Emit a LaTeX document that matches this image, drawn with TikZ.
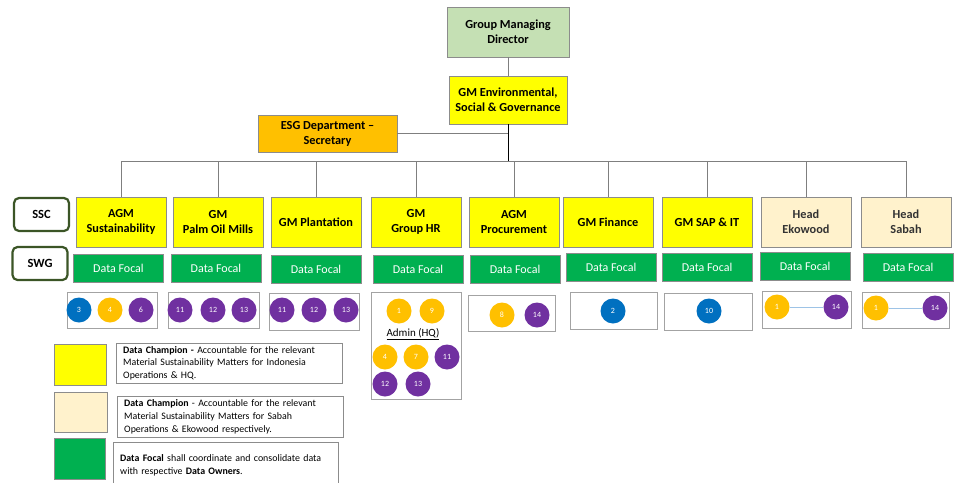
\documentclass[tikz,border=0pt]{standalone}
\usepackage{fontspec}
\setmainfont{Carlito}

\definecolor{champyellow}{HTML}{FFFF00}
\definecolor{champcream}{HTML}{FFF2CC}
\definecolor{focalgreen}{HTML}{00B050}
\definecolor{gmdgreen}{HTML}{C5E0B4}
\definecolor{esgorange}{HTML}{FFC000}
\definecolor{dotblue}{HTML}{0070C0}
\definecolor{dotorange}{HTML}{FFC000}
\definecolor{dotpurple}{HTML}{7030A0}
\definecolor{tagborder}{HTML}{3B5526}
\definecolor{boxgray}{HTML}{8C8C8C}
\definecolor{linkgray}{HTML}{7F7F7F}
\definecolor{linkblue}{HTML}{9DC3E6}

\begin{document}
\begin{tikzpicture}[x=1pt,y=-1pt,
  box/.style={draw=boxgray, align=center, inner sep=0pt, font=\fontsize{12.3}{15}\selectfont\bfseries},
  champbox/.style={box, fill=champyellow, minimum width=90pt, minimum height=50pt},
  sabahbox/.style={box, fill=champcream, minimum width=90pt, minimum height=50pt, font=\fontsize{12.3}{15}\selectfont\bfseries\color{black!80}},
  focalbox/.style={draw=boxgray, fill=focalgreen, minimum width=90pt, minimum height=28pt, inner sep=0pt, text=white, font=\fontsize{12}{14}\selectfont},
  grpbox/.style={draw=boxgray!80, fill=white, inner sep=0pt},
  dot/.style={circle, minimum size=25pt, inner sep=0pt, text=white, font=\fontsize{8}{9}\selectfont},
  tagbox/.style={draw=tagborder, line width=2.2pt, rounded corners=5pt, minimum width=55pt, minimum height=33pt, inner sep=0pt, font=\fontsize{12.5}{14}\selectfont\bfseries},
  legsq/.style={draw=boxgray, minimum width=52pt, minimum height=41pt, inner sep=0pt},
  legtext/.style={draw=boxgray, anchor=north west, align=left, inner xsep=7pt, inner ysep=0pt, text width=212pt, font=\fontsize{9.9}{12.8}\selectfont},
  link/.style={draw=linkgray, line width=0.7pt}
]

  \useasboundingbox (0,0) rectangle (961,482);

  \node[box, fill=gmdgreen, minimum width=122pt, minimum height=50pt] (gmd) at (508,32) {Group Managing\\Director};
  \node[champbox, minimum width=118pt, minimum height=48pt] (gmesg) at (508,100) {GM Environmental,\\Social \& Governance};
  \node[box, fill=esgorange, minimum width=139pt, minimum height=37pt] (esgdept) at (327.5,133.5) {ESG Department --\\Secretary};

  \coordinate (busL) at (121,161);
  \coordinate (busR) at (906,161);

  \node[champbox] (s1) at (121,222) {AGM\\Sustainability};
  \node[champbox] (s2) at (218,222) {GM\\Palm Oil Mills};
  \node[champbox] (s3) at (316,222) {GM Plantation};
  \node[champbox] (s4) at (416,222) {GM\\Group HR};
  \node[champbox] (s5) at (514,222) {AGM\\Procurement};
  \node[champbox] (s6) at (608,222) {GM Finance};
  \node[champbox] (s7) at (707,222) {GM SAP \& IT};
  \node[sabahbox] (s8) at (806,222) {Head\\Ekowood};
  \node[sabahbox] (s9) at (906,222) {Head\\Sabah};

  \draw[link] (gmd.south) -- (gmesg.north);
  \draw[line width=0.7pt] (gmesg.south) -- (gmesg.south |- busL);
  \draw[link] (esgdept.east) -- (esgdept.east -| gmesg.south);
  \draw[link] (busL) -- (busR);
  \foreach \i in {1,...,9}
    \draw[link] (s\i.north) -- (s\i.north |- busL);

  \node[focalbox] (f1) at (118.5,268) {Data Focal};
  \node[focalbox] (f2) at (216,268) {Data Focal};
  \node[focalbox] (f3) at (316,269) {Data Focal};
  \node[focalbox] (f4) at (418,269) {Data Focal};
  \node[focalbox] (f5) at (515,269) {Data Focal};
  \node[focalbox] (f6) at (611,267) {Data Focal};
  \node[focalbox] (f7) at (707,267) {Data Focal};
  \node[focalbox] (f8) at (805,266) {Data Focal};
  \node[focalbox] (f9) at (908,267) {Data Focal};

  \node[tagbox] (ssc) at (41.5,214.5) {SSC};
  \node[tagbox] (swg) at (40,263.5) {SWG};

  \node[grpbox, minimum width=90pt, minimum height=36pt] (g1) at (112,310) {};
  \node[grpbox, minimum width=91pt, minimum height=36pt] (g2) at (213.5,310) {};
  \node[grpbox, minimum width=90pt, minimum height=37pt] (g3) at (314,311.5) {};
  \node[grpbox, minimum width=90pt, minimum height=107pt] (g4) at (416,345.5) {};
  \node[grpbox, minimum width=87pt, minimum height=36pt] (g5) at (511.5,313) {};
  \node[grpbox, minimum width=87pt, minimum height=37pt] (g6) at (613.5,310.5) {};
  \node[grpbox, minimum width=88pt, minimum height=37pt] (g7) at (708,311.5) {};
  \node[grpbox, minimum width=89pt, minimum height=37pt] (g8) at (806.5,309.5) {};
  \node[grpbox, minimum width=87pt, minimum height=36pt] (g9) at (905.5,310) {};

  \node[dot, fill=dotblue] (c1a) at (79,310) {3};
  \node[dot, fill=dotorange] (c1b) at (110,310) {4};
  \node[dot, fill=dotpurple] (c1c) at (141,310) {6};

  \node[dot, fill=dotpurple] (c2a) at (180,310) {11};
  \node[dot, fill=dotpurple] (c2b) at (213,310) {12};
  \node[dot, fill=dotpurple] (c2c) at (244,310) {13};

  \node[dot, fill=dotpurple] (c3a) at (282,310) {11};
  \node[dot, fill=dotpurple] (c3b) at (314,310) {12};
  \node[dot, fill=dotpurple] (c3c) at (346,310) {13};

  \node[dot, fill=dotorange] (c4a) at (399,311) {1};
  \node[dot, fill=dotorange] (c4b) at (432,311) {9};
  \node[font=\fontsize{11}{13}\selectfont] (admin) at (413,334) {\underline{Admin (HQ)}};
  \node[dot, fill=dotorange] (c4c) at (385,357) {4};
  \node[dot, fill=dotorange] (c4d) at (416,357) {7};
  \node[dot, fill=dotpurple] (c4e) at (447,357) {11};
  \node[dot, fill=dotpurple] (c4f) at (385,384) {12};
  \node[dot, fill=dotpurple] (c4g) at (418,384) {13};

  \node[dot, fill=dotorange] (c5a) at (502,315) {8};
  \node[dot, fill=dotpurple] (c5b) at (537,315) {14};

  \node[dot, fill=dotblue] (c6a) at (613,311) {2};

  \node[dot, fill=dotblue] (c7a) at (709,311) {10};

  \node[dot, fill=dotorange] (c8a) at (777,307) {1};
  \node[dot, fill=dotpurple] (c8b) at (836,307) {14};
  \draw[linkblue, line width=0.6pt] (c8a) -- (c8b);

  \node[dot, fill=dotorange] (c9a) at (876,308) {1};
  \node[dot, fill=dotpurple] (c9b) at (935,308) {14};
  \draw[linkblue, line width=0.6pt] (c9a) -- (c9b);

  \node[legsq, fill=champyellow] (lg1) at (80,364.5) {};
  \node[legsq, fill=champcream, minimum width=53pt, minimum height=40pt] (lg2) at (80.5,412) {};
  \node[legsq, fill=focalgreen, minimum width=51pt] (lg3) at (79.5,458.5) {};

  \node[legtext, minimum height=40pt] (lt1) at (116,343) {\textbf{Data Champion -} Accountable for the relevant\\Material Sustainability Matters for Indonesia\\Operations \& HQ.};
  \node[legtext, minimum height=41pt] (lt2) at (117,396) {\textbf{Data Champion} - Accountable for the relevant\\Material Sustainability Matters for Sabah\\Operations \& Ekowood respectively.};
  \node[legtext, minimum height=46pt, text width=211pt] (lt3) at (113,442) {\textbf{Data Focal} shall coordinate and consolidate data\\with respective \textbf{Data Owners}.};

\end{tikzpicture}
\end{document}
